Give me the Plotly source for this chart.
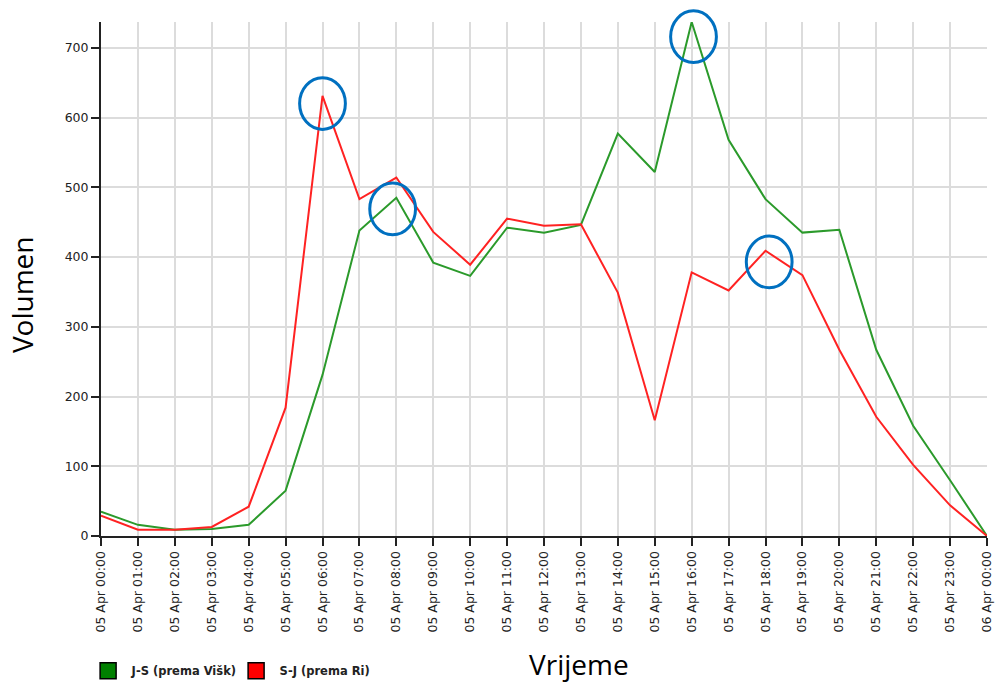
import plotly.graph_objects as go
import datetime as dt

hours = [f"2016-04-05 {h:02d}:00" for h in range(24)] + ["2016-04-06 00:00"]
tick_text = [("05" if i < 24 else "06") + f" Apr {i % 24:02d}:00" for i in range(25)]

js_name = "J-S (prema Višk)"
sj_name = "S-J (prema Ri)"

js_values = [35, 16, 9, 10, 16, 65, 231, 438, 485, 392, 373, 442, 435, 446,
             577, 522, 737, 568, 483, 435, 439, 267, 158, 80, 0]
sj_values = [29, 9, 9, 13, 42, 184, 631, 483, 514, 436, 389, 455, 445, 447,
             349, 166, 378, 352, 409, 374, 267, 171, 102, 44, 0]

# highlighted spots (circled in the reference): (hour, value)
circled = [(6, 620), (7.9, 469), (16.05, 716), (18.1, 393)]

line_green = "#2b9a2b"
line_red = "#ff2222"
legend_green = "#008000"
legend_red = "#ff0000"

y_max = max(js_values + sj_values)

fig = go.Figure()
fig.add_trace(go.Scatter(x=hours, y=js_values, mode="lines", name=js_name,
                         line=dict(color=line_green, width=2), showlegend=False))
fig.add_trace(go.Scatter(x=hours, y=sj_values, mode="lines", name=sj_name,
                         line=dict(color=line_red, width=2), showlegend=False))
for nm, col in [(js_name, legend_green), (sj_name, legend_red)]:
    fig.add_trace(go.Scatter(x=[None], y=[None], mode="markers", name=nm,
                             marker=dict(symbol="square", size=16, color=col,
                                         line=dict(color="black", width=1.5))))

t0 = dt.datetime(2016, 4, 5, 0, 0)
for hx, yv in circled:
    c = t0 + dt.timedelta(hours=hx)
    x0 = (c - dt.timedelta(hours=0.62)).strftime("%Y-%m-%d %H:%M:%S")
    x1 = (c + dt.timedelta(hours=0.62)).strftime("%Y-%m-%d %H:%M:%S")
    # paper y so the circle near the top is not clipped
    fig.add_shape(type="circle", xref="x", yref="paper", x0=x0, x1=x1,
                  y0=(yv - 37) / y_max, y1=(yv + 37) / y_max,
                  line=dict(color="#0070C0", width=3))

title_font = dict(family="Open Sans", size=28, color="black")
fig.add_annotation(text="Volumen", xref="paper", yref="paper", x=-0.089, y=0.469,
                   textangle=-90, showarrow=False, font=title_font,
                   xanchor="center", yanchor="middle")
fig.add_annotation(text="Vrijeme", xref="paper", yref="paper", x=0.5395, y=-0.249,
                   showarrow=False, font=title_font, xanchor="center", yanchor="middle")

fig.update_layout(
    width=995, height=682,
    margin=dict(l=101, r=8, t=22, b=146, autoexpand=False),
    paper_bgcolor="white", plot_bgcolor="white",
    showlegend=True,
    legend=dict(orientation="h", x=-0.0185, y=-0.262, xanchor="left", yanchor="middle",
                itemwidth=37, entrywidth=96,
                font=dict(family="DejaVu Sans", size=11.5, color="#222", weight="bold"),
                itemclick=False, bgcolor="rgba(0,0,0,0)"),
)
axis_common = dict(
    tickfont=dict(family="DejaVu Sans", size=12.5, color="#222"),
    showline=True, linecolor="#222", linewidth=2,
    ticks="outside", ticklen=8, tickwidth=2, tickcolor="#222",
    showgrid=True, gridcolor="#dcdcdc", gridwidth=1.5,
    zeroline=False, automargin=False,
)
fig.update_xaxes(
    range=[hours[0], hours[-1]], type="date",
    tickmode="array", tickvals=hours, ticktext=tick_text,
    tickangle=-90, **axis_common,
)
fig.update_yaxes(
    range=[0, y_max],
    tickvals=[0, 100, 200, 300, 400, 500, 600, 700],
    **axis_common,
)

fig.write_html("out.html", config={"displayModeBar": False},
               post_script="document.body.style.margin='0px';document.body.style.overflow='hidden';")
